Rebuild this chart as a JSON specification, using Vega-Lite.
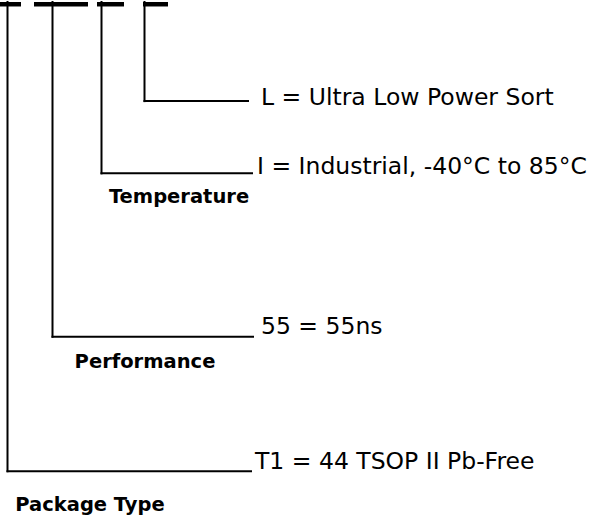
{
  "$schema": "https://vega.github.io/schema/vega-lite/v6.json",
  "width": 590,
  "height": 525,
  "padding": 0,
  "autosize": {"type": "fit", "contains": "padding"},
  "background": "white",
  "config": {"view": {"stroke": null}},
  "datasets": {
    "bars": [
      {"start": 0, "end": 21},
      {"start": 34, "end": 88},
      {"start": 97, "end": 124},
      {"start": 143, "end": 168}
    ],
    "segments": [
      {"x": 7.5, "y": 0, "x2": 7.5, "y2": 471},
      {"x": 7.5, "y": 471, "x2": 251, "y2": 471},
      {"x": 52.5, "y": 0, "x2": 52.5, "y2": 336},
      {"x": 52.5, "y": 336, "x2": 253, "y2": 336},
      {"x": 101.5, "y": 0, "x2": 101.5, "y2": 172},
      {"x": 101.5, "y": 172, "x2": 252, "y2": 172},
      {"x": 144.5, "y": 0, "x2": 144.5, "y2": 99.5},
      {"x": 144.5, "y": 99.5, "x2": 248, "y2": 99.5}
    ],
    "codes": [
      {"x": 261, "y": 103, "label": "L = Ultra Low Power Sort"},
      {"x": 257, "y": 173, "label": "I = Industrial, -40°C to 85°C"},
      {"x": 261, "y": 333, "label": "55 = 55ns"},
      {"x": 255, "y": 469, "label": "T1 = 44 TSOP II Pb-Free"}
    ],
    "groups": [
      {"x": 179, "y": 202, "label": "Temperature"},
      {"x": 145, "y": 367, "label": "Performance"},
      {"x": 90, "y": 511, "label": "Package Type"}
    ]
  },
  "layer": [
    {
      "data": {"name": "bars"},
      "mark": {"type": "rect", "color": "black"},
      "encoding": {
        "x": {"field": "start", "type": "quantitative", "scale": {"domain": [0, 590], "nice": false, "zero": false}, "axis": null},
        "x2": {"field": "end"},
        "y": {"datum": 0, "type": "quantitative", "scale": {"domain": [0, 525], "nice": false, "zero": false, "reverse": true}, "axis": null},
        "y2": {"datum": 4.5}
      }
    },
    {
      "data": {"name": "segments"},
      "mark": {"type": "rule", "color": "black", "strokeWidth": 2, "strokeCap": "square"},
      "encoding": {
        "x": {"field": "x", "type": "quantitative", "scale": {"domain": [0, 590], "nice": false, "zero": false}, "axis": null},
        "x2": {"field": "x2"},
        "y": {"field": "y", "type": "quantitative", "scale": {"domain": [0, 525], "nice": false, "zero": false, "reverse": true}, "axis": null},
        "y2": {"field": "y2"}
      }
    },
    {
      "data": {"name": "codes"},
      "mark": {"type": "text", "align": "left", "baseline": "alphabetic", "font": "DejaVu Sans", "fontSize": 23.5, "color": "black"},
      "encoding": {
        "x": {"field": "x", "type": "quantitative", "scale": {"domain": [0, 590], "nice": false, "zero": false}, "axis": null},
        "y": {"field": "y", "type": "quantitative", "scale": {"domain": [0, 525], "nice": false, "zero": false, "reverse": true}, "axis": null},
        "text": {"field": "label"}
      }
    },
    {
      "data": {"name": "groups"},
      "mark": {"type": "text", "align": "center", "baseline": "alphabetic", "font": "DejaVu Sans", "fontWeight": "bold", "fontSize": 19.5, "color": "black"},
      "encoding": {
        "x": {"field": "x", "type": "quantitative", "scale": {"domain": [0, 590], "nice": false, "zero": false}, "axis": null},
        "y": {"field": "y", "type": "quantitative", "scale": {"domain": [0, 525], "nice": false, "zero": false, "reverse": true}, "axis": null},
        "text": {"field": "label"}
      }
    }
  ]
}
